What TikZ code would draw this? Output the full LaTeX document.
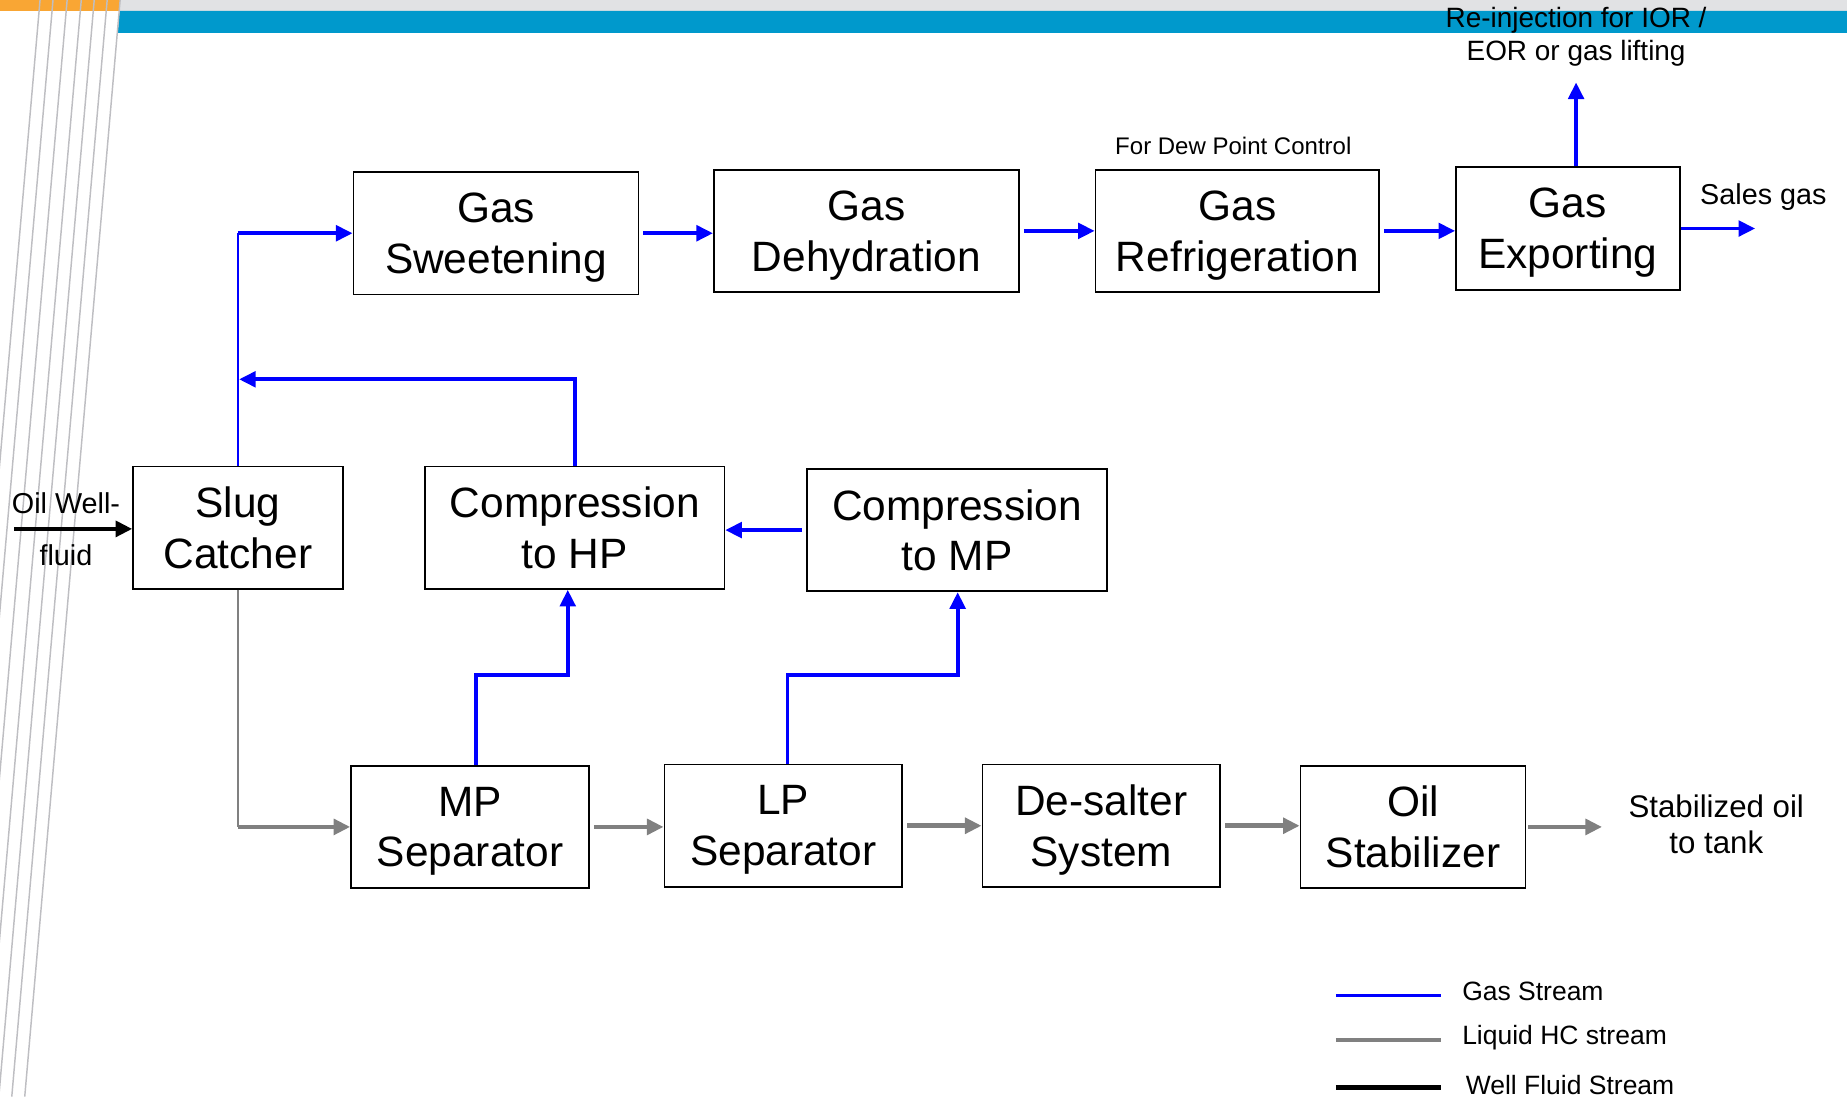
\documentclass[tikz,border=0pt]{standalone}
\usepackage{fontspec}
\setmainfont{Liberation Sans}
\usetikzlibrary{arrows.meta}
\definecolor{gasblue}{RGB}{0,0,255}
\definecolor{liqgray}{RGB}{128,128,128}
\definecolor{barblue}{RGB}{0,153,204}
\definecolor{barorange}{RGB}{249,166,52}
\definecolor{bargray}{RGB}{225,226,228}
\definecolor{stripe}{RGB}{190,190,194}

\begin{document}
\begin{tikzpicture}[x=0.02cm,y=-0.02cm,
  box/.style={draw=black, line width=0.85pt, fill=white, align=center,
    inner sep=0pt, minimum height=2.08cm, text depth=0pt,
    font=\fontsize{20.5pt}{24.5pt}\selectfont},
  lbl/.style={align=center, inner sep=0pt, font=\fontsize{13.9pt}{15.9pt}\selectfont},
  leglbl/.style={anchor=west, inner sep=0pt, font=\fontsize{12.8pt}{14pt}\selectfont},
  tip/.style={-{Triangle[length=8pt,width=7.5pt]}},
  gas/.style={draw=gasblue, line width=1.8pt},
  gasthin/.style={draw=gasblue, line width=1.1pt},
  liq/.style={draw=liqgray, line width=2.2pt},
  liqthin/.style={draw=liqgray, line width=1.1pt},
  well/.style={draw=black, line width=2pt},
]
% page frame
\fill[white] (0,0) rectangle (1568,931);
\useasboundingbox (0,0) rectangle (1568,931);

% header bars
\fill[bargray] (101,0) rectangle (1568,9.3);
\fill[barorange] (0,0) rectangle (102,9.3);
\fill[barblue] (101.5,9.3) -- (1568,9.3) -- (1568,28) -- (100,28) -- cycle;

% slanted stripes on the left margin
\foreach \t in {34,45,57,69,80,91,102}
  \draw[stripe, line width=0.7pt] (\t,0) -- ({\t-81},931);

% process units
\node[box, minimum width=3.56cm] (slug)   at (202,448)   {Slug\\Catcher};
\node[box, minimum width=4.84cm] (sweet)  at (421,198)   {Gas\\Sweetening};
\node[box, minimum width=5.18cm] (dehyd)  at (735.5,196) {Gas\\Dehydration};
\node[box, minimum width=4.82cm] (refrig) at (1050.5,196){Gas\\Refrigeration};
\node[box, minimum width=3.80cm] (export) at (1331,194)  {Gas\\Exporting};
\node[box, minimum width=5.08cm] (chp)    at (488,448)   {Compression\\to HP};
\node[box, minimum width=5.10cm] (cmp)    at (812.5,450) {Compression\\to MP};
\node[box, minimum width=4.04cm] (mps)    at (399,702)   {MP\\Separator};
\node[box, minimum width=4.04cm] (lps)    at (665,701)   {LP\\Separator};
\node[box, minimum width=4.04cm] (desalt) at (935,701)   {De-salter\\System};
\node[box, minimum width=3.82cm] (stab)   at (1199.5,702){Oil\\Stabilizer};

% free ends and bends
\coordinate (wellin) at (12,449);
\coordinate (sales)  at (1490,195);
\coordinate (reinj)  at (1338,70);
\coordinate (ret)    at (203,322);
\coordinate (mpbend) at (482,573);
\coordinate (lpbend) at (813,573);
\coordinate (tank)   at (1360,701);

% labels
\node[lbl] (oilwell) at (56,427) {Oil Well-};
\node[lbl] (fluid)   at (56,471) {fluid};
\node[lbl] (saleslbl) at (1497,167) {Sales gas};
\node[lbl, font=\fontsize{13.5pt}{15.9pt}\selectfont] (reinjlbl) at (1338,31) {Re-injection for IOR /\\EOR or gas lifting};
\node[lbl, font=\fontsize{11.6pt}{13pt}\selectfont] (dewlbl) at (1047,124) {For Dew Point Control};
\node[lbl, font=\fontsize{15.1pt}{17.6pt}\selectfont] (tanklbl) at (1457,700) {Stabilized oil\\to tank};

% well fluid inlet
\draw[well, tip] (wellin) -- (wellin -| slug.west);

% gas streams
\draw[gasthin] (slug.north) -- (slug.north |- sweet.west);
\draw[gas, tip] (slug.north |- sweet.west) -- (sweet.west);
\draw[gas, tip] (chp.north) |- (ret);
\draw[gas, tip, shorten <=2pt] (sweet.east) -- (sweet.east -| dehyd.west);
\draw[gas, tip, shorten <=2pt] (dehyd.east) -- (dehyd.east -| refrig.west);
\draw[gas, tip, shorten <=2pt] (refrig.east) -- (refrig.east -| export.west);
\draw[gas, tip] (export.east) -- (export.east -| sales);
\draw[gas, tip] (reinj |- export.north) -- (reinj);
\draw[gas, tip, shorten <=2pt] (cmp.west) -- (cmp.west -| chp.east);
\draw[gas, tip] ([xshift=3pt]mps.north) |- (mpbend) -- (mpbend |- chp.south);
\draw[gas, tip] ([xshift=2pt]lps.north) |- (lpbend) -- (lpbend |- cmp.south);

% liquid streams
\draw[liqthin] (slug.south) -- (slug.south |- mps.west);
\draw[liq, tip] (slug.south |- mps.west) -- (mps.west);
\draw[liq, tip, shorten <=2pt] (mps.east) -- (mps.east -| lps.west);
\draw[liq, tip, shorten <=2pt] (lps.east) -- (lps.east -| desalt.west);
\draw[liq, tip, shorten <=2pt] (desalt.east) -- (desalt.east -| stab.west);
\draw[liq, tip, shorten <=1pt] (stab.east) -- (stab.east -| tank);

% legend
\coordinate (lg1a) at (1134,845); \coordinate (lg1b) at (1223,845);
\coordinate (lg2a) at (1134,883); \coordinate (lg2b) at (1223,883);
\coordinate (lg3a) at (1134,923); \coordinate (lg3b) at (1223,923);
\draw[gas] (lg1a) -- (lg1b);
\draw[liq] (lg2a) -- (lg2b);
\draw[well, line width=2.3pt] (lg3a) -- (lg3b);
\node[leglbl] (leg1) at (1241,842) {Gas Stream};
\node[leglbl] (leg2) at (1241,881) {Liquid HC stream};
\node[leglbl] (leg3) at (1244,921) {Well Fluid Stream};
\end{tikzpicture}
\end{document}
